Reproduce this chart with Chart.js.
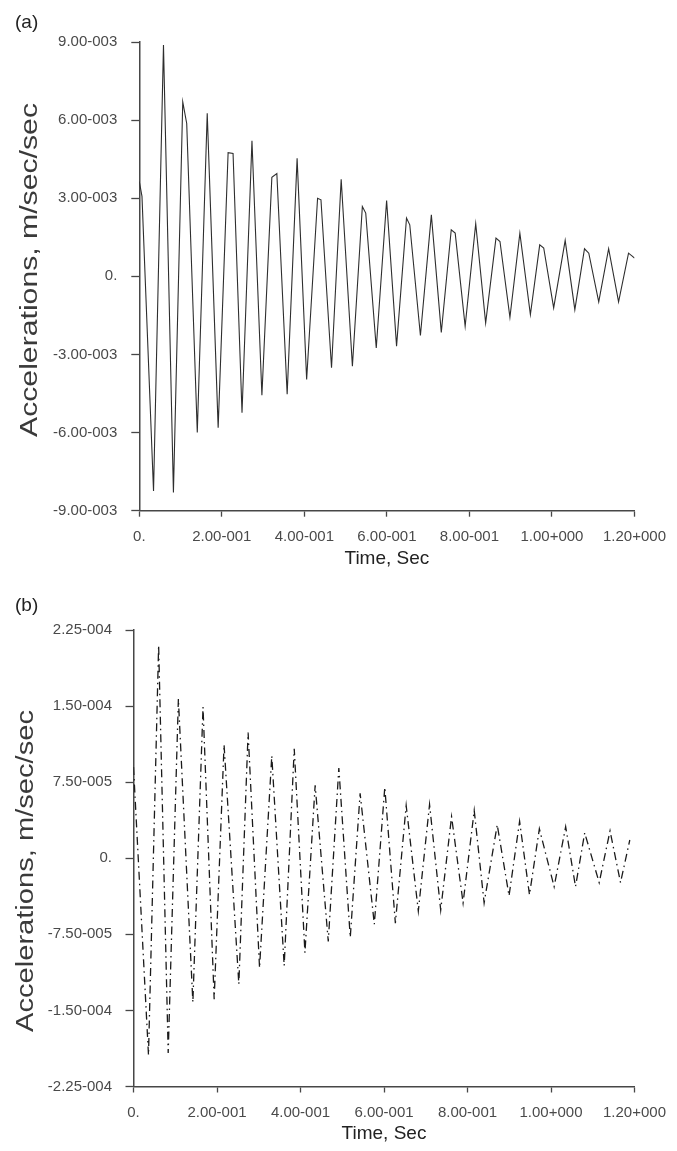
<!DOCTYPE html>
<html>
<head>
<meta charset="utf-8">
<title>Accelerations vs time</title>
<script src="https://cdn.jsdelivr.net/npm/chart.js@4.4.1/dist/chart.umd.min.js"></script>
<style>
  html, body { margin: 0; padding: 0; background: #ffffff; }
  canvas { display: block; }
</style>
</head>
<body>
<canvas id="chartA" width="677" height="576"></canvas>
<canvas id="chartB" width="677" height="575"></canvas>
<script>
// ---- data: panel (a), acceleration in m/sec/sec ----
const timeA = [0.000, 0.0065, 0.0345, 0.0586, 0.0827, 0.1053, 0.1149, 0.1405, 0.1646, 0.1911,
  0.2152, 0.2272, 0.2489, 0.2730, 0.2971, 0.3212, 0.3333, 0.3583, 0.3824, 0.4055,
  0.4320, 0.4402, 0.4658, 0.4892, 0.5164, 0.5405, 0.5487, 0.5742, 0.5993, 0.6234,
  0.6475, 0.6554, 0.6812, 0.7077, 0.7318, 0.7559, 0.7655, 0.7896, 0.8152, 0.8393,
  0.8643, 0.8740, 0.8981, 0.9222, 0.9477, 0.9703, 0.9800, 1.0041, 1.0320, 1.0554,
  1.0788, 1.0892, 1.1133, 1.1373, 1.1614, 1.1855, 1.1952, 1.2000];
const accA = [3.64e-3, 3.07e-3, -8.24e-3, 8.88e-3, -8.30e-3, 6.70e-3, 5.87e-3, -6.00e-3, 6.26e-3, -5.81e-3,
  4.75e-3, 4.72e-3, -5.24e-3, 5.21e-3, -4.57e-3, 3.80e-3, 3.95e-3, -4.53e-3, 4.53e-3, -3.96e-3,
  3.00e-3, 2.94e-3, -3.51e-3, 3.73e-3, -3.45e-3, 2.68e-3, 2.43e-3, -2.75e-3, 2.91e-3, -2.68e-3,
  2.24e-3, 1.98e-3, -2.27e-3, 2.36e-3, -2.15e-3, 1.79e-3, 1.66e-3, -1.92e-3, 2.02e-3, -1.79e-3,
  1.47e-3, 1.34e-3, -1.57e-3, 1.66e-3, -1.47e-3, 1.21e-3, 1.09e-3, -1.21e-3, 1.38e-3, -1.28e-3,
  1.06e-3, 0.89e-3, -0.98e-3, 1.06e-3, -0.98e-3, 0.89e-3, 0.77e-3, 0.70e-3];

// ---- data: panel (b), acceleration in m/sec/sec ----
const timeB = [0.000, 0.0359, 0.0602, 0.0831, 0.1075, 0.1422, 0.1665, 0.1932, 0.2169, 0.2523,
  0.2745, 0.3019, 0.3312, 0.3609, 0.3850, 0.4106, 0.4351, 0.4665, 0.4918, 0.5192,
  0.5428, 0.5768, 0.6019, 0.6272, 0.6531, 0.6822, 0.7091, 0.7358, 0.7618, 0.7894,
  0.8161, 0.8398, 0.8712, 0.8995, 0.9248, 0.9484, 0.9721, 1.0075, 1.0351, 1.0587,
  1.0807, 1.1154, 1.1414, 1.1665, 1.1887];
const accB = [9.0e-5, -19.4e-5, 21.0e-5, -19.2e-5, 15.7e-5, -14.2e-5, 14.9e-5, -13.9e-5, 11.2e-5, -12.4e-5,
  12.4e-5, -10.8e-5, 10.1e-5, -10.6e-5, 10.8e-5, -9.3e-5, 7.2e-5, -8.2e-5, 8.9e-5, -7.8e-5,
  6.4e-5, -6.5e-5, 7.0e-5, -6.4e-5, 5.2e-5, -5.2e-5, 5.3e-5, -5.1e-5, 4.1e-5, -4.4e-5,
  4.7e-5, -4.4e-5, 3.3e-5, -3.7e-5, 3.65e-5, -3.6e-5, 2.9e-5, -2.8e-5, 3.1e-5, -2.8e-5,
  2.5e-5, -2.4e-5, 2.7e-5, -2.4e-5, 1.8e-5];

// ---- tick values and their printed labels ----
const xTickValues = [0, 0.2, 0.4, 0.6, 0.8, 1.0, 1.2];
const xTickLabels = ['0.', '2.00-001', '4.00-001', '6.00-001', '8.00-001', '1.00+000', '1.20+000'];
const yTickValuesA = [-9e-3, -6e-3, -3e-3, 0, 3e-3, 6e-3, 9e-3];
const yTickLabelsA = ['-9.00-003', '-6.00-003', '-3.00-003', '0.', '3.00-003', '6.00-003', '9.00-003'];
const yTickValuesB = [-2.25e-4, -1.5e-4, -7.5e-5, 0, 7.5e-5, 1.5e-4, 2.25e-4];
const yTickLabelsB = ['-2.25-004', '-1.50-004', '-7.50-005', '0.', '7.50-005', '1.50-004', '2.25-004'];

const xAxisTitle = 'Time, Sec';
const yAxisTitle = 'Accelerations, m/sec/sec';
const panelA = '(a)';
const panelB = '(b)';

const FAMILY = '"Liberation Sans", Arial, Helvetica, sans-serif';

// Panel letter and the stretched vertical axis title
const sideText = {
  id: 'sideText',
  afterDraw(chart, args, o) {
    const ctx = chart.ctx;
    ctx.save();
    ctx.fillStyle = o.panelColor;
    ctx.font = o.panelFont;
    ctx.textAlign = 'left';
    ctx.textBaseline = 'alphabetic';
    ctx.fillText(o.panel, o.panelX, o.panelY);

    ctx.fillStyle = o.titleColor;
    ctx.font = o.titleFont;
    const w = ctx.measureText(o.title).width;
    ctx.translate(o.titleX, o.titleY);
    ctx.rotate(-Math.PI / 2);
    ctx.scale(o.titleLength / w, 1);
    ctx.textAlign = 'center';
    ctx.fillText(o.title, 0, 0);
    ctx.restore();
  }
};

function makeChart(id, times, values, yVals, yLabels, geo, lineStyle, side) {
  const pts = times.map((t, i) => ({ x: t, y: values[i] }));
  return new Chart(document.getElementById(id), {
    type: 'line',
    data: {
      datasets: [Object.assign({
        data: pts,
        pointRadius: 0,
        tension: 0,
        fill: false
      }, lineStyle)]
    },
    options: {
      responsive: false,
      devicePixelRatio: 1,
      animation: false,
      events: [],
      layout: { padding: { top: geo.top, right: geo.right, left: 0, bottom: 0 } },
      plugins: {
        legend: { display: false },
        tooltip: { enabled: false },
        sideText: side
      },
      scales: {
        x: {
          type: 'linear',
          min: 0,
          max: 1.2,
          afterBuildTicks: s => { s.ticks = xTickValues.map(v => ({ value: v })); },
          afterFit: s => { s.height = geo.xHeight; },
          ticks: {
            callback: (v, i) => xTickLabels[i],
            color: '#4a4a4a',
            font: { family: FAMILY, size: 15 },
            padding: 11,
            maxRotation: 0,
            autoSkip: false
          },
          grid: { drawOnChartArea: false, drawTicks: true, tickLength: 6, tickColor: '#474747', tickWidth: 1.3 },
          border: { display: true, color: '#474747', width: 1.5 },
          title: {
            display: true,
            text: xAxisTitle,
            color: '#222222',
            font: { family: FAMILY, size: 19 },
            padding: { top: 0, bottom: geo.xTitlePad }
          }
        },
        y: {
          type: 'linear',
          min: yVals[0],
          max: yVals[yVals.length - 1],
          afterBuildTicks: s => { s.ticks = yVals.map(v => ({ value: v })); },
          afterFit: s => { s.width = geo.left; },
          ticks: {
            callback: (v, i) => yLabels[i],
            color: '#4a4a4a',
            font: { family: FAMILY, size: 15 },
            padding: geo.yPad,
            autoSkip: false
          },
          grid: { drawOnChartArea: false, drawTicks: true, tickLength: 8, tickColor: '#474747', tickWidth: 1.3 },
          border: { display: true, color: '#474747', width: 1.5 }
        }
      }
    },
    plugins: [sideText]
  });
}

makeChart('chartA', timeA, accA, yTickValuesA, yTickLabelsA,
  { top: 42, right: 40, left: 139.3, xHeight: 65.3, xTitlePad: 6, yPad: 14 },
  { borderColor: '#2e2e2e', borderWidth: 1.1 },
  {
    panel: panelA, panelX: 15, panelY: 28, panelFont: '19px ' + FAMILY, panelColor: '#222222',
    title: yAxisTitle, titleX: 37.3, titleY: 270, titleLength: 334,
    titleFont: '23px ' + FAMILY, titleColor: '#3a3a3a'
  });

makeChart('chartB', timeB, accB, yTickValuesB, yTickLabelsB,
  { top: 54, right: 35.5, left: 133.5, xHeight: 64.5, xTitlePad: 6, yPad: 13.5 },
  { borderColor: '#1a1a1a', borderWidth: 1.3, borderDash: [8, 4, 1.5, 4] },
  {
    panel: panelB, panelX: 15, panelY: 35, panelFont: '19px ' + FAMILY, panelColor: '#222222',
    title: yAxisTitle, titleX: 33.3, titleY: 295, titleLength: 322,
    titleFont: '23px ' + FAMILY, titleColor: '#3a3a3a'
  });
</script>
</body>
</html>
